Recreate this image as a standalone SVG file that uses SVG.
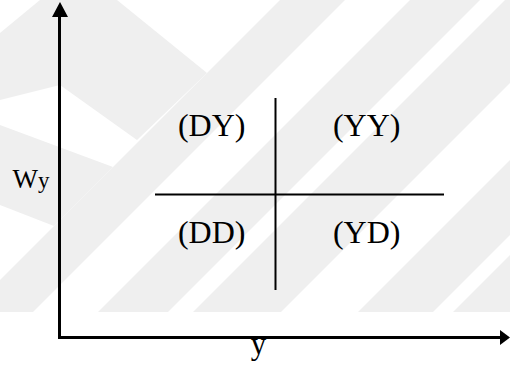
<svg xmlns="http://www.w3.org/2000/svg" width="510" height="368" viewBox="0 0 510 368">
  <style>
    .wm { fill: #efefef; stroke: none; }
    .axis { stroke: #000; stroke-width: 3; fill: none; }
    .quad { stroke: #000; stroke-width: 2; fill: none; }
    .head { fill: #000; }
    text { font-family: "Liberation Serif", "Times New Roman", serif; fill: #000; }
    .lbl { font-size: 32px; text-anchor: middle; }
  </style>
  <defs>
    <clipPath id="wmclip"><rect x="0" y="0" width="510" height="312"/></clipPath>
  </defs>
  <rect x="0" y="0" width="510" height="368" fill="#ffffff"/>
  <g id="watermark" clip-path="url(#wmclip)">
    <polygon class="wm" points="40,0 117,0 207,73 137,140 60,85 0,100 0,33"/>
    <polygon class="wm" points="0,125 113,167 54,226 0,205"/>
    <polygon class="wm" points="280,0 345,0 0,345 0,280"/>
    <polygon class="wm" points="410,0 480,0 168,312 98,312"/>
    <polygon class="wm" points="505,0 593,0 281,312 193,312"/>
    <polygon class="wm" points="670,0 745,0 433,312 358,312"/>
    <polygon class="wm" points="765,0 840,0 528,312 453,312"/>
  </g>
  <g id="connectors">
    <line class="axis" x1="59.5" y1="339" x2="59.5" y2="15"/>
    <polygon class="head" points="52,17 60,2 68,17"/>
    <line class="axis" x1="58" y1="337.5" x2="502" y2="337.5"/>
    <polygon class="head" points="500,330 510,337.5 500,345"/>
    <line class="quad" x1="275.5" y1="98" x2="275.5" y2="290"/>
    <line class="quad" x1="155" y1="194.5" x2="444" y2="194.5"/>
  </g>
  <g id="label-wy">
    <text x="12.5" y="187.5" font-size="27">W<tspan font-size="23" y="188">y</tspan></text>
  </g>
  <g id="label-y">
    <text x="258.5" y="354" font-size="31" text-anchor="middle">y</text>
  </g>
  <g id="node-DY"><text class="lbl" x="211.7" y="136">(DY)</text></g>
  <g id="node-YY"><text class="lbl" x="366.7" y="136">(YY)</text></g>
  <g id="node-DD"><text class="lbl" x="211.7" y="243">(DD)</text></g>
  <g id="node-YD"><text class="lbl" x="366.7" y="243">(YD)</text></g>
</svg>
